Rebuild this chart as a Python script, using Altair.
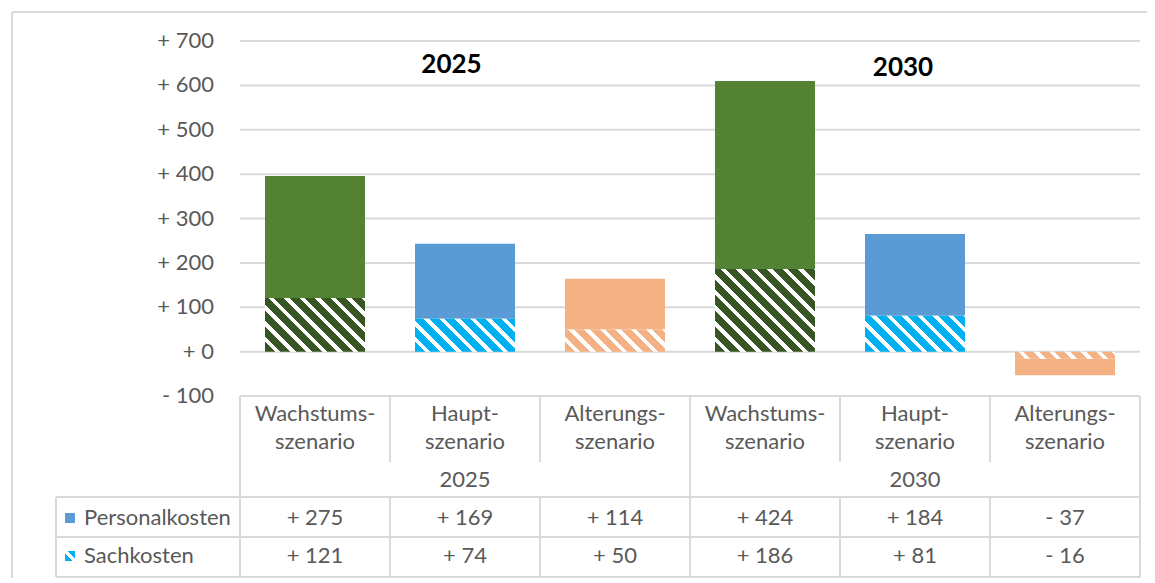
import math
import altair as alt
import pandas as pd

# ---------------- data ----------------
YEARS = ["2025", "2030"]
SCEN_KEYS = ["Wachstum", "Haupt", "Alterung"]
SCEN_LINE1 = ["Wachstums-", "Haupt-", "Alterungs-"]
SCEN_LINE2 = ["szenario", "szenario", "szenario"]
SERIES = ["Personalkosten", "Sachkosten"]
PERSONAL = [275, 169, 114, 424, 184, -37]
SACH = [121, 74, 50, 186, 81, -16]
Y_TICKS = [-100, 0, 100, 200, 300, 400, 500, 600, 700]
BANNER_TEXT = ["2025", "2030"]

# ---------------- styles / layout ----------------
SOLID = ["#548235", "#5B9BD5", "#F4B183"]
HATCH = ["#375623", "#00B0F0", "#F4B183"]
GRID = "#D9D9D9"
TXT = "#595959"
FONT = "Lato"
FS = 22

W, H = 1135, 566
X_DOMAIN = [0, 6]
X_RANGE = [228, 1128]
Y_DOMAIN = [-100, 700]
Y_RANGE = [384, 29]
PX_PER_UNIT = (Y_RANGE[0] - Y_RANGE[1]) / (Y_DOMAIN[1] - Y_DOMAIN[0])
BAR_PX = (X_RANGE[1] - X_RANGE[0]) / (X_DOMAIN[1] - X_DOMAIN[0]) * (4 / 6)
BANNER_X = [1.41, 4.42]
BANNER_Y = [645, 640]
YLAB_X = 202

# table rows (pixel layout inside plot)
ROW_L1, ROW_L2, ROW_YEAR, ROW_P, ROW_S = 402, 430, 468, 506, 544
T_TOP, T_HEAD_END, T_L1, T_L2, T_BOT = 384, 450, 485, 525, 565
T_LEFT = 44

xs = alt.Scale(domain=X_DOMAIN, range=X_RANGE)
ys = alt.Scale(domain=Y_DOMAIN, range=Y_RANGE, nice=False, zero=False)

n = len(PERSONAL)
bars = pd.DataFrame({
    "idx": list(range(n)),
    "scen": [SCEN_KEYS[i % 3] for i in range(n)],
    "x0": [i + 1 / 6 for i in range(n)],
    "x1": [i + 5 / 6 for i in range(n)],
    "cx": [i + 0.5 for i in range(n)],
    "p": PERSONAL,
    "s": SACH,
})
bars["p_lo"] = bars["s"]
bars["p_hi"] = bars["s"] + bars["p"]
bars["s_lo"] = 0
bars["s_hi"] = bars["s"]


def hatch(color, w, h, period=11.0, frac=0.64, white="#FFFFFF"):
    h = max(h, 1.0)
    L = (w + h) / math.sqrt(2)
    nper = L / period
    sc = (w + h) / (w * w + h * h)
    stops = []
    k = 0
    while k < nper:
        a = k / nper
        b = min((k + frac) / nper, 1.0)
        c = min((k + 1) / nper, 1.0)
        stops += [{"offset": a, "color": color}, {"offset": b, "color": color}]
        if b < 1.0:
            stops += [{"offset": b, "color": white}, {"offset": c, "color": white}]
        k += 1
    return {"gradient": "linear", "x1": 0, "y1": 1, "x2": sc * w, "y2": 1 - sc * h,
            "stops": stops}


layers = []

# frame (left and top edges)
frame = pd.DataFrame({"k": [0]})
layers.append(alt.Chart(frame).mark_rule(color=GRID, strokeWidth=2).encode(
    x=alt.value(0), y=alt.value(0), y2=alt.value(H)))
layers.append(alt.Chart(frame).mark_rule(color=GRID, strokeWidth=2).encode(
    x=alt.value(0), x2=alt.value(W), y=alt.value(0)))

# gridlines
grid = pd.DataFrame({"t": Y_TICKS, "a": [X_DOMAIN[0]] * len(Y_TICKS), "b": [X_DOMAIN[1]] * len(Y_TICKS)})
layers.append(alt.Chart(grid).mark_rule(color=GRID, strokeWidth=2).encode(
    x=alt.X("a:Q", scale=xs, axis=None),
    x2="b:Q",
    y=alt.Y("t:Q", scale=ys, axis=None),
))
# y tick labels
layers.append(alt.Chart(grid).transform_calculate(
    lab="datum.t < 0 ? '- ' + abs(datum.t) : '+ ' + datum.t").mark_text(
    font=FONT, fontSize=FS, color=TXT, align="right", baseline="middle").encode(
    x=alt.value(YLAB_X), y=alt.Y("t:Q", scale=ys, axis=None), text="lab:N"))

# solid bars (Personalkosten)
layers.append(alt.Chart(bars).mark_bar().encode(
    x=alt.X("x0:Q", scale=xs, axis=None), x2="x1:Q",
    y=alt.Y("p_lo:Q", scale=ys, axis=None), y2="p_hi:Q",
    color=alt.Color("scen:N", scale=alt.Scale(domain=SCEN_KEYS, range=SOLID), legend=None),
))

# hatched bars (Sachkosten)
for i in range(n):
    hpx = abs(SACH[i]) * PX_PER_UNIT
    layers.append(alt.Chart(bars).transform_filter(alt.datum.idx == i).mark_bar(
        color=hatch(HATCH[i % 3], BAR_PX, hpx)).encode(
        x=alt.X("x0:Q", scale=xs, axis=None), x2="x1:Q",
        y=alt.Y("s_lo:Q", scale=ys, axis=None), y2="s_hi:Q",
    ))

# banners 2025 / 2030
ban = pd.DataFrame({"t": BANNER_TEXT, "bx": BANNER_X, "by": BANNER_Y})
layers.append(alt.Chart(ban).mark_text(font=FONT, fontSize=26, fontWeight="bold",
                                       color="#000000", baseline="middle").encode(
    x=alt.X("bx:Q", scale=xs, axis=None), y=alt.Y("by:Q", scale=ys, axis=None), text="t:N"))

# table structure
bnd = pd.DataFrame({"b": list(range(7)), "full": [b % 3 == 0 for b in range(7)]})
layers.append(alt.Chart(bnd).transform_filter("datum.full").mark_rule(color=GRID, strokeWidth=2).encode(
    x=alt.X("b:Q", scale=xs, axis=None), y=alt.value(T_TOP), y2=alt.value(T_BOT)))
layers.append(alt.Chart(bnd).transform_filter("!datum.full").mark_rule(color=GRID, strokeWidth=2).encode(
    x=alt.X("b:Q", scale=xs, axis=None), y=alt.value(T_TOP), y2=alt.value(T_HEAD_END)))
layers.append(alt.Chart(bnd).mark_rule(color=GRID, strokeWidth=2).encode(
    x=alt.X("b:Q", scale=xs, axis=None), y=alt.value(T_L1), y2=alt.value(T_BOT)))
hl = pd.DataFrame({"k": [0]})
for yy in (T_L1, T_L2, T_BOT):
    layers.append(alt.Chart(hl).mark_rule(color=GRID, strokeWidth=2).encode(
        x=alt.value(T_LEFT), x2=alt.value(X_RANGE[1]), y=alt.value(yy)))
layers.append(alt.Chart(hl).mark_rule(color=GRID, strokeWidth=2).encode(
    x=alt.value(T_LEFT), y=alt.value(T_L1), y2=alt.value(T_BOT)))

# category labels
cats = pd.DataFrame({
    "cx": [i + 0.5 for i in range(n)],
    "l1": [SCEN_LINE1[i % 3] for i in range(n)],
    "l2": [SCEN_LINE2[i % 3] for i in range(n)],
    "p": PERSONAL, "s": SACH,
})
txt = dict(font=FONT, fontSize=FS, color=TXT, baseline="middle", align="center")
layers.append(alt.Chart(cats).mark_text(**txt).encode(
    x=alt.X("cx:Q", scale=xs, axis=None), y=alt.value(ROW_L1), text="l1:N"))
layers.append(alt.Chart(cats).mark_text(**txt).encode(
    x=alt.X("cx:Q", scale=xs, axis=None), y=alt.value(ROW_L2), text="l2:N"))

yrs = pd.DataFrame({"yr": YEARS, "yx": [1.5, 4.5]})
layers.append(alt.Chart(yrs).mark_text(**txt).encode(
    x=alt.X("yx:Q", scale=xs, axis=None), y=alt.value(ROW_YEAR), text="yr:N"))

fmt = "(datum.{f} < 0 ? '- ' : '+ ') + abs(datum.{f})"
layers.append(alt.Chart(cats).transform_calculate(lab=fmt.format(f="p")).mark_text(**txt).encode(
    x=alt.X("cx:Q", scale=xs, axis=None), y=alt.value(ROW_P), text="lab:N"))
layers.append(alt.Chart(cats).transform_calculate(lab=fmt.format(f="s")).mark_text(**txt).encode(
    x=alt.X("cx:Q", scale=xs, axis=None), y=alt.value(ROW_S), text="lab:N"))

# row headers with legend keys
rh = pd.DataFrame({"name": SERIES})
layers.append(alt.Chart(rh).transform_filter(alt.datum.name == SERIES[0]).mark_text(
    font=FONT, fontSize=FS, color=TXT, baseline="middle", align="left").encode(
    x=alt.value(72), y=alt.value(ROW_P), text="name:N"))
layers.append(alt.Chart(rh).transform_filter(alt.datum.name == SERIES[1]).mark_text(
    font=FONT, fontSize=FS, color=TXT, baseline="middle", align="left").encode(
    x=alt.value(72), y=alt.value(ROW_S), text="name:N"))
layers.append(alt.Chart(rh).transform_filter(alt.datum.name == SERIES[0]).mark_square(
    size=100, opacity=1, color=SOLID[1]).encode(x=alt.value(58), y=alt.value(ROW_P)))
layers.append(alt.Chart(rh).transform_filter(alt.datum.name == SERIES[1]).mark_square(
    size=100, opacity=1, color=hatch(HATCH[1], 10, 10, period=9, frac=0.6)).encode(
    x=alt.value(58), y=alt.value(ROW_S)))

chart = alt.layer(*layers).properties(
    width=W, height=H,
    autosize=alt.AutoSizeParams(type="none"),
    padding={"left": 4, "top": 4, "right": 0, "bottom": 0},
).configure_view(stroke=None).configure(font=FONT)

chart.save("out.html", embed_options={"renderer": "svg", "actions": False})
